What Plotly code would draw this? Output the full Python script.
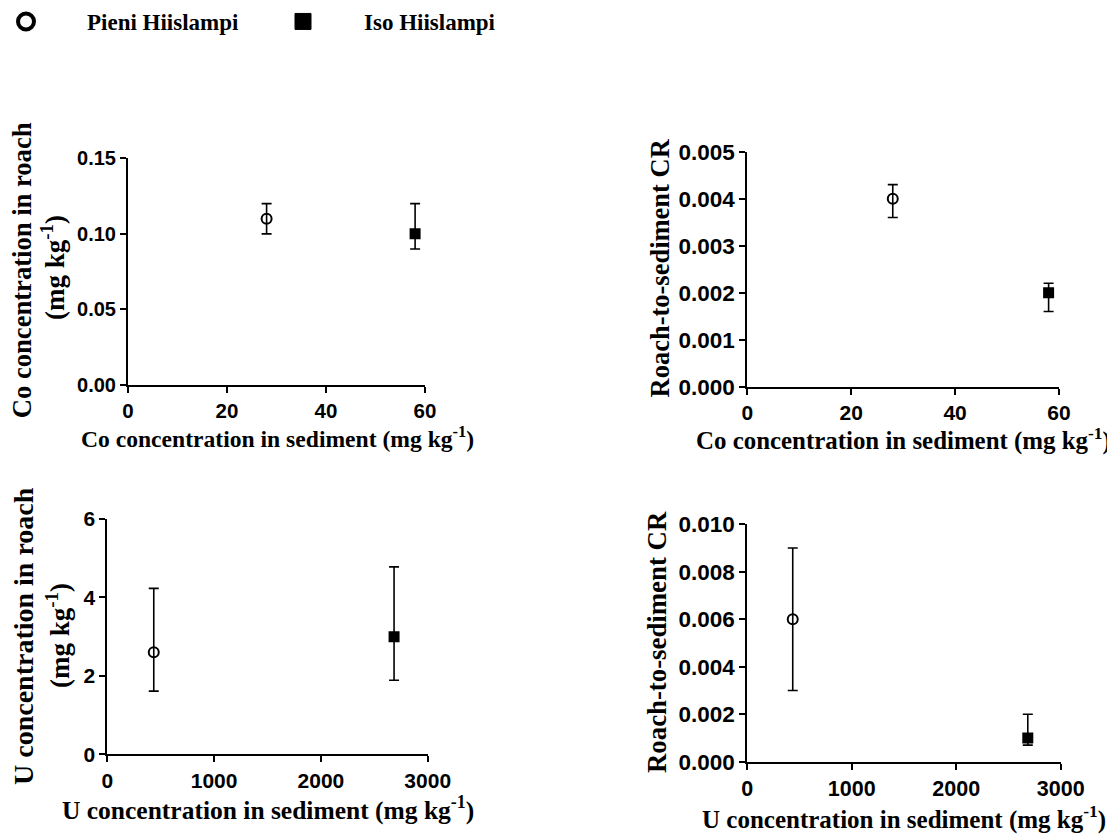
import plotly.graph_objects as go

# ---- data ----
sites = ["Pieni Hiislampi", "Iso Hiislampi"]
co_sediment = [28, 58]
co_roach = [0.11, 0.10]
co_roach_high = [0.12, 0.12]
co_roach_low = [0.10, 0.09]
co_cr = [0.004, 0.002]
co_cr_high = [0.0043, 0.0022]
co_cr_low = [0.0036, 0.0016]
u_sediment = [435, 2685]
u_roach = [2.6, 3.0]
u_roach_high = [4.23, 4.78]
u_roach_low = [1.61, 1.89]
u_cr = [0.006, 0.001]
u_cr_high = [0.009, 0.002]
u_cr_low = [0.003, 0.0007]

co_x_ticks = [0, 20, 40, 60]
u_x_ticks = [0, 1000, 2000, 3000]
co_roach_ticks = [0, 0.05, 0.10, 0.15]
co_cr_ticks = [0, 0.001, 0.002, 0.003, 0.004, 0.005]
u_roach_ticks = [0, 2, 4, 6]
u_cr_ticks = [0, 0.002, 0.004, 0.006, 0.008, 0.010]

symbols = ["circle-open", "square"]
marker_sizes = [10, 9]

SERIF = "Liberation Serif, Times New Roman, serif"
SANS = "Liberation Sans, Arial, sans-serif"

fig = go.Figure()

panels = [
    ("x", "y", co_sediment, co_roach, co_roach_high, co_roach_low),
    ("x2", "y2", co_sediment, co_cr, co_cr_high, co_cr_low),
    ("x3", "y3", u_sediment, u_roach, u_roach_high, u_roach_low),
    ("x4", "y4", u_sediment, u_cr, u_cr_high, u_cr_low),
]

for xa, ya, xs, ys, hi, lo in panels:
    for i, s in enumerate(sites):
        fig.add_trace(go.Scatter(
            x=[xs[i]], y=[ys[i]], xaxis=xa, yaxis=ya, mode="markers",
            name=s, showlegend=False,
            marker=dict(symbol=symbols[i], size=marker_sizes[i], color="black",
                        line=dict(color="black", width=2)),
            error_y=dict(type="data", symmetric=False,
                         array=[hi[i] - ys[i]], arrayminus=[ys[i] - lo[i]],
                         color="black", thickness=1.6, width=5),
        ))

# legend-only traces
for i, s in enumerate(sites):
    fig.add_trace(go.Scatter(
        x=[None], y=[None], mode="markers", name=s, showlegend=True,
        marker=dict(symbol=symbols[i], size=16, color="black",
                    line=dict(color="black", width=4 if i == 0 else 1)),
    ))

def xaxis_cfg(domain, ticks, rng, size, anchor):
    return dict(domain=domain, range=rng, tickvals=ticks, anchor=anchor,
                showline=True, automargin=False,
                linecolor="black", linewidth=2, ticks="outside", ticklen=6,
                tickwidth=2, tickcolor="black", showgrid=False, zeroline=False,
                tickfont=dict(family=SANS, size=size, color="black", weight="bold"))

def yaxis_cfg(domain, ticks, rng, fmt, size, anchor):
    return dict(domain=domain, range=rng, tickvals=ticks, tickformat=fmt,
                anchor=anchor, showline=True, automargin=False,
                linecolor="black", linewidth=2,
                ticks="outside", ticklen=6, tickwidth=2, tickcolor="black",
                showgrid=False, zeroline=False,
                tickfont=dict(family=SANS, size=size, color="black", weight="bold"))

W, H = 1115, 836
OFF = 8  # page body margin
def px(a):
    return (a - OFF) / W
def py(b):
    return 1 - (b - OFF) / H
def dx(a, b):
    return [px(a), px(b)]
def dy(top, bottom):
    return [py(bottom), py(top)]

fig.update_layout(
    width=W, height=H, autosize=False,
    margin=dict(l=0, r=0, t=0, b=0, pad=0, autoexpand=False),
    paper_bgcolor="white", plot_bgcolor="white",
    xaxis=xaxis_cfg(dx(128, 425), co_x_ticks, [0, 60], 20.5, "y"),
    yaxis=yaxis_cfg(dy(158.3, 385), co_roach_ticks, [0, 0.15], ".2f", 20, "x"),
    xaxis2=xaxis_cfg(dx(747.3, 1059), co_x_ticks, [0, 60], 21, "y2"),
    yaxis2=yaxis_cfg(dy(151.7, 386.7), co_cr_ticks, [0, 0.005], ".3f", 22.5, "x2"),
    xaxis3=xaxis_cfg(dx(107.3, 427.7), u_x_ticks, [0, 3000], 21, "y3"),
    yaxis3=yaxis_cfg(dy(519, 754.3), u_roach_ticks, [0, 6], "d", 21, "x3"),
    xaxis4=xaxis_cfg(dx(747.3, 1060.7), u_x_ticks, [0, 3000], 21.5, "y4"),
    yaxis4=yaxis_cfg(dy(524.3, 761.7), u_cr_ticks, [0, 0.010], ".3f", 22.5, "x4"),
    legend=dict(orientation="h", x=-43 / W, y=1 + 8 / H, xanchor="left", yanchor="top",
                font=dict(family=SERIF, size=23, color="black", weight="bold"),
                itemwidth=112, entrywidth=150, bgcolor="rgba(0,0,0,0)"),
)

def ann(text, x, y, size, angle=0):
    fig.add_annotation(text=text, x=px(x), y=py(y), xref="paper", yref="paper",
                       showarrow=False, textangle=angle, xanchor="center", yanchor="middle",
                       font=dict(family=SERIF, size=size, color="black", weight="bold"))

sup = "(mg kg<sup>-1</sup>)"
ann("Co concentration in sediment " + sup, 277.5, 437, 23.6)
ann("Co concentration in sediment " + sup, 903, 438.5, 24.9)
ann("U concentration in sediment " + sup, 268, 808, 25.5)
ann("U concentration in sediment " + sup, 904, 817, 25)
ann("Co concentration in roach", 21.7, 270.5, 26.6, -90)
ann(sup, 53, 268, 27, -90)
ann("Roach-to-sediment CR", 659, 268.5, 26.5, -90)
ann("U concentration in roach", 23, 636, 28, -90)
ann(sup, 58, 636, 27, -90)
ann("Roach-to-sediment CR", 657, 642, 26.8, -90)

fig.write_html("out.html")
